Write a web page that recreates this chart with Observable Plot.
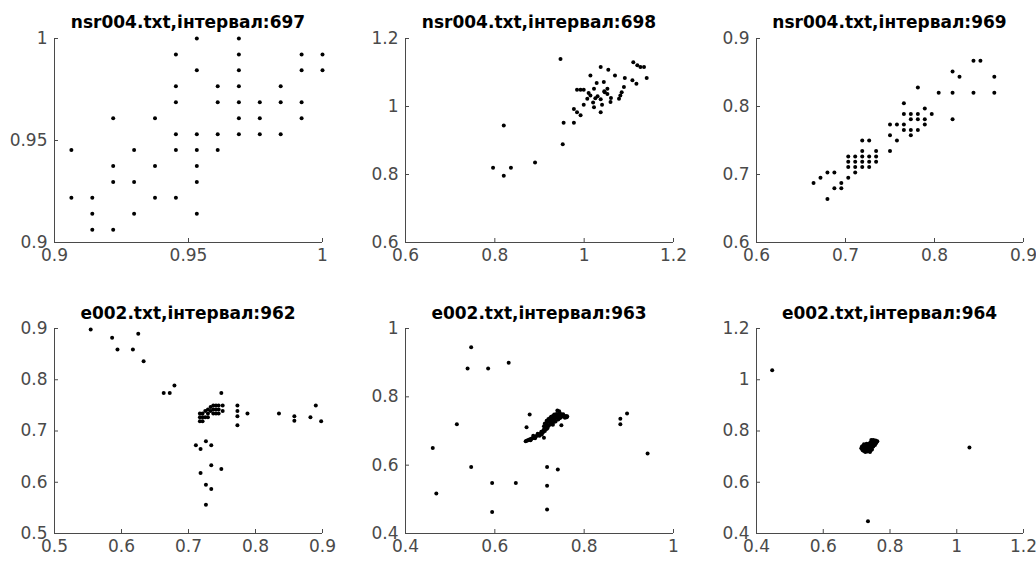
<!DOCTYPE html>
<html><head><meta charset="utf-8">
<script src="https://cdn.jsdelivr.net/npm/d3@7"></script>
<script src="https://cdn.jsdelivr.net/npm/@observablehq/plot@0.6"></script>
<style>
body{margin:0;background:#fff;}
#wrap{position:relative;width:1036px;height:565px;overflow:hidden;background:#fff;}
.panel{position:absolute;}
.title{position:absolute;font-family:"DejaVu Sans",sans-serif;font-weight:bold;font-size:17px;color:#000;text-align:center;line-height:20px;white-space:nowrap;width:320px;}
</style></head><body><div id="wrap"></div>
<script>
// ---- titles ----
const titles = [
  "nsr004.txt,інтервал:697", "nsr004.txt,інтервал:698", "nsr004.txt,інтервал:969",
  "e002.txt,інтервал:962", "e002.txt,інтервал:963", "e002.txt,інтервал:964"
];
// ---- tick values ----
const xTicks = [
  [0.9, 0.95, 1], [0.6, 0.8, 1, 1.2], [0.6, 0.7, 0.8, 0.9],
  [0.5, 0.6, 0.7, 0.8, 0.9], [0.4, 0.6, 0.8, 1], [0.4, 0.6, 0.8, 1, 1.2]
];
const yTicks = [
  [0.9, 0.95, 1], [0.6, 0.8, 1, 1.2], [0.6, 0.7, 0.8, 0.9],
  [0.5, 0.6, 0.7, 0.8, 0.9], [0.4, 0.6, 0.8, 1], [0.4, 0.6, 0.8, 1, 1.2]
];
// ---- data: [RR(n), RR(n+1)] ----
const p697 = [
  [0.9063,0.9453],[0.9063,0.9219],
  [0.9141,0.9219],[0.9141,0.9141],[0.9141,0.9063],
  [0.9219,0.9609],[0.9219,0.9375],[0.9219,0.9297],[0.9219,0.9063],
  [0.9297,0.9453],[0.9297,0.9297],[0.9297,0.9141],
  [0.9375,0.9609],[0.9375,0.9375],[0.9375,0.9219],
  [0.9453,0.9922],[0.9453,0.9766],[0.9453,0.9688],[0.9453,0.9531],[0.9453,0.9453],[0.9453,0.9219],
  [0.9531,1.0],[0.9531,0.9844],[0.9531,0.9531],[0.9531,0.9453],[0.9531,0.9375],[0.9531,0.9297],[0.9531,0.9141],
  [0.9609,0.9766],[0.9609,0.9688],[0.9609,0.9531],[0.9609,0.9453],
  [0.9688,1.0],[0.9688,0.9922],[0.9688,0.9844],[0.9688,0.9766],[0.9688,0.9688],[0.9688,0.9609],[0.9688,0.9531],
  [0.9766,0.9688],[0.9766,0.9609],[0.9766,0.9531],
  [0.9844,0.9766],[0.9844,0.9688],[0.9844,0.9531],
  [0.9922,0.9922],[0.9922,0.9844],[0.9922,0.9688],[0.9922,0.9609],
  [1.0,0.9922],[1.0,0.9844]
];
const p698 = [
  [0.947,1.140],[0.820,0.944],[0.796,0.820],[0.820,0.796],[0.836,0.820],[0.890,0.835],
  [0.952,0.889],[0.954,0.952],[0.977,0.952],
  [1.037,1.116],[1.054,1.108],[1.069,1.091],[1.014,1.091],[1.110,1.130],[1.119,1.121],
  [1.126,1.116],[1.134,1.116],[1.140,1.084],[1.091,1.084],[1.108,1.077],[1.117,1.067],
  [1.044,1.072],[1.028,1.069],[0.984,1.049],[0.992,1.049],[0.999,1.049],[1.022,1.052],
  [1.052,1.052],[1.046,1.042],[1.052,1.037],[1.089,1.057],[1.084,1.042],[1.081,1.032],
  [1.078,1.023],[1.014,1.032],[1.007,1.023],[1.025,1.024],[1.037,1.021],[1.059,1.013],
  [0.999,1.005],[1.022,0.998],[1.040,1.005],[1.037,0.983],[0.977,0.993],[0.984,0.983],
  [0.992,0.974],[1.045,1.045],[1.030,1.030],[1.010,1.040],[1.020,1.012],[1.060,1.025]
];
const p969 = [
  [0.6641,0.6875],[0.6719,0.6953],[0.6797,0.7031],[0.6797,0.6641],[0.6875,0.7031],[0.6875,0.6797],
  [0.6953,0.6875],[0.6953,0.6797],[0.7031,0.6953],[0.7031,0.7109],[0.7031,0.7188],[0.7031,0.7266],
  [0.7109,0.7031],[0.7109,0.7109],[0.7109,0.7188],[0.7109,0.7266],
  [0.7188,0.7109],[0.7188,0.7188],[0.7188,0.7266],[0.7188,0.7344],[0.7188,0.75],
  [0.7266,0.7109],[0.7266,0.7188],[0.7266,0.7266],[0.7266,0.75],
  [0.7344,0.7188],[0.7344,0.7266],[0.7344,0.7344],
  [0.75,0.7734],[0.75,0.7578],[0.75,0.7344],[0.7578,0.7734],[0.7578,0.75],
  [0.7656,0.7891],[0.7656,0.7734],[0.7656,0.7656],[0.7656,0.8047],
  [0.7734,0.7891],[0.7734,0.7813],[0.7734,0.7656],[0.7734,0.7578],
  [0.7813,0.8281],[0.7813,0.7891],[0.7813,0.7813],[0.7813,0.7656],
  [0.7891,0.7969],[0.7891,0.7734],[0.7891,0.7813],[0.7969,0.7891],
  [0.8047,0.8203],[0.8203,0.8516],[0.8203,0.8203],[0.8203,0.7813],[0.8281,0.8438],
  [0.8438,0.8672],[0.8438,0.8203],[0.8516,0.8672],[0.8672,0.8438],[0.8672,0.8203]
];
const p962 = [
  [0.554,0.898],[0.586,0.882],[0.594,0.859],[0.617,0.859],[0.625,0.890],[0.633,0.836],
  [0.663,0.774],[0.672,0.774],[0.679,0.789],[0.749,0.774],
  [0.773,0.750],[0.773,0.739],[0.773,0.729],[0.773,0.711],[0.788,0.734],[0.835,0.734],
  [0.858,0.729],[0.858,0.720],[0.882,0.727],[0.890,0.750],[0.898,0.719],
  [0.717,0.734],[0.717,0.727],[0.717,0.719],[0.721,0.734],[0.721,0.727],[0.721,0.719],
  [0.725,0.739],[0.725,0.727],[0.729,0.742],[0.729,0.734],[0.729,0.727],
  [0.733,0.747],[0.733,0.739],[0.737,0.750],[0.737,0.742],[0.737,0.734],
  [0.741,0.750],[0.741,0.742],[0.741,0.734],[0.745,0.750],[0.745,0.742],[0.745,0.734],
  [0.751,0.750],[0.751,0.739],
  [0.711,0.672],[0.718,0.665],[0.726,0.680],[0.734,0.672],[0.734,0.633],[0.749,0.626],
  [0.718,0.618],[0.726,0.595],[0.734,0.587],[0.726,0.556]
];
const p963 = [
  [0.547,0.945],[0.539,0.883],[0.585,0.883],[0.631,0.900],[0.515,0.720],[0.461,0.650],
  [0.469,0.517],[0.547,0.595],[0.594,0.548],[0.647,0.548],[0.594,0.463],[0.717,0.595],
  [0.717,0.540],[0.717,0.470],[0.741,0.587],[0.678,0.748],[0.671,0.711],[0.710,0.680],
  [0.749,0.717],[0.881,0.720],[0.881,0.736],[0.896,0.751],[0.942,0.634],
  [0.669,0.670],[0.674,0.673],[0.679,0.676],[0.684,0.679],[0.689,0.682],[0.694,0.686],
  [0.699,0.689],[0.703,0.692],[0.706,0.697],[0.709,0.701],[0.711,0.706],[0.713,0.711],
  [0.714,0.717],[0.716,0.722],[0.712,0.722],[0.718,0.712],[0.719,0.727],[0.721,0.716],
  [0.722,0.731],[0.724,0.720],[0.725,0.725],[0.727,0.734],[0.728,0.720],[0.729,0.729],
  [0.731,0.738],[0.732,0.726],[0.734,0.733],[0.735,0.744],[0.736,0.738],[0.738,0.750],
  [0.740,0.745],[0.740,0.760],[0.742,0.740],[0.744,0.752],[0.746,0.745],[0.748,0.740],
  [0.751,0.744],[0.755,0.742],[0.759,0.744],[0.762,0.743],[0.733,0.748],[0.720,0.735],
  [0.726,0.742],
  [0.6715,0.6715],[0.6765,0.6745],[0.6815,0.6775],[0.6865,0.6805],[0.6915,0.6840],
  [0.6965,0.6875],[0.7010,0.6905],[0.7045,0.6945],[0.7075,0.6990],[0.7100,0.7035],
  [0.680,0.673],[0.690,0.679],[0.700,0.686],[0.705,0.690],[0.708,0.696],
  [0.712,0.700],[0.716,0.706],[0.718,0.709],[0.704,0.698],[0.696,0.692],[0.686,0.686],
  [0.710,0.714],[0.716,0.730],[0.730,0.718],[0.736,0.728],[0.742,0.734],
  [0.746,0.738],[0.724,0.738],[0.730,0.744],[0.744,0.758],[0.748,0.750],[0.753,0.749],
  [0.757,0.739],[0.761,0.740]
];
const p964 = [
  [0.447,1.037],[1.038,0.736],[0.734,0.448],
  [0.718,0.735],[0.720,0.728],[0.720,0.742],[0.722,0.722],[0.724,0.736],[0.725,0.730],
  [0.726,0.745],[0.728,0.724],[0.729,0.738],[0.730,0.731],[0.732,0.720],[0.733,0.745],
  [0.734,0.727],[0.735,0.738],[0.737,0.750],[0.738,0.732],[0.740,0.744],[0.741,0.755],
  [0.743,0.740],[0.745,0.750],[0.746,0.760],[0.748,0.746],[0.750,0.755],[0.752,0.762],
  [0.754,0.750],[0.756,0.758],[0.758,0.752],[0.742,0.724],[0.736,0.722],
  [0.714,0.733],[0.716,0.740],[0.718,0.725],[0.760,0.757],[0.762,0.760],[0.757,0.763],
  [0.750,0.765],[0.744,0.765],[0.726,0.718],[0.740,0.718],[0.746,0.728],[0.750,0.740],
  [0.755,0.745],[0.730,0.750],[0.722,0.748],[0.745,0.735],[0.740,0.728]
];
const series = [p697, p698, p969, p962, p963, p964];

// ---- layout (pixels) ----
const layout = [
  {left: 0,   top: 0,   w: 345, h: 280, ml: 54, mr: 23, mt: 38, mb: 38},
  {left: 345, top: 0,   w: 345, h: 280, ml: 60, mr: 17, mt: 38, mb: 38},
  {left: 690, top: 0,   w: 346, h: 280, ml: 66, mr: 13, mt: 38, mb: 38},
  {left: 0,   top: 280, w: 345, h: 285, ml: 54, mr: 23, mt: 48, mb: 32},
  {left: 345, top: 280, w: 345, h: 285, ml: 60, mr: 17, mt: 48, mb: 32},
  {left: 690, top: 280, w: 346, h: 285, ml: 66, mr: 13, mt: 48, mb: 32}
];
const titleTop = [12, 12, 12, 303, 303, 303];

const fmt = d3.format("~g");
const ink = "#4a4a4a";
const wrap = document.getElementById("wrap");

series.forEach((data, i) => {
  const L = layout[i], xt = xTicks[i], yt = yTicks[i];
  const chart = Plot.plot({
    width: L.w, height: L.h,
    marginLeft: L.ml, marginRight: L.mr, marginTop: L.mt, marginBottom: L.mb,
    x: {domain: [xt[0], xt[xt.length - 1]]},
    y: {domain: [yt[0], yt[yt.length - 1]]},
    style: {fontFamily: "'DejaVu Sans', sans-serif", fontSize: "17px", color: ink, background: "transparent", overflow: "visible"},
    marks: [
      Plot.ruleX([xt[0]], {stroke: ink, strokeWidth: 1}),
      Plot.ruleY([yt[0]], {stroke: ink, strokeWidth: 1}),
      Plot.axisX({ticks: xt, tickFormat: fmt, tickSize: -4, tickPadding: 10, label: null}),
      Plot.axisY({ticks: yt, tickFormat: fmt, tickSize: -4, tickPadding: 11, label: null}),
      Plot.dot(data, {x: d => d[0], y: d => d[1], r: 2, fill: "#000", stroke: "none"})
    ]
  });
  const div = document.createElement("div");
  div.className = "panel";
  div.style.left = L.left + "px";
  div.style.top = L.top + "px";
  div.appendChild(chart);
  wrap.appendChild(div);

  const t = document.createElement("div");
  t.className = "title";
  t.textContent = titles[i];
  const cx = L.left + L.ml + (L.w - L.ml - L.mr) / 2;
  t.style.left = (cx - 160) + "px";
  t.style.top = titleTop[i] + "px";
  wrap.appendChild(t);
});
</script>
</body></html>
